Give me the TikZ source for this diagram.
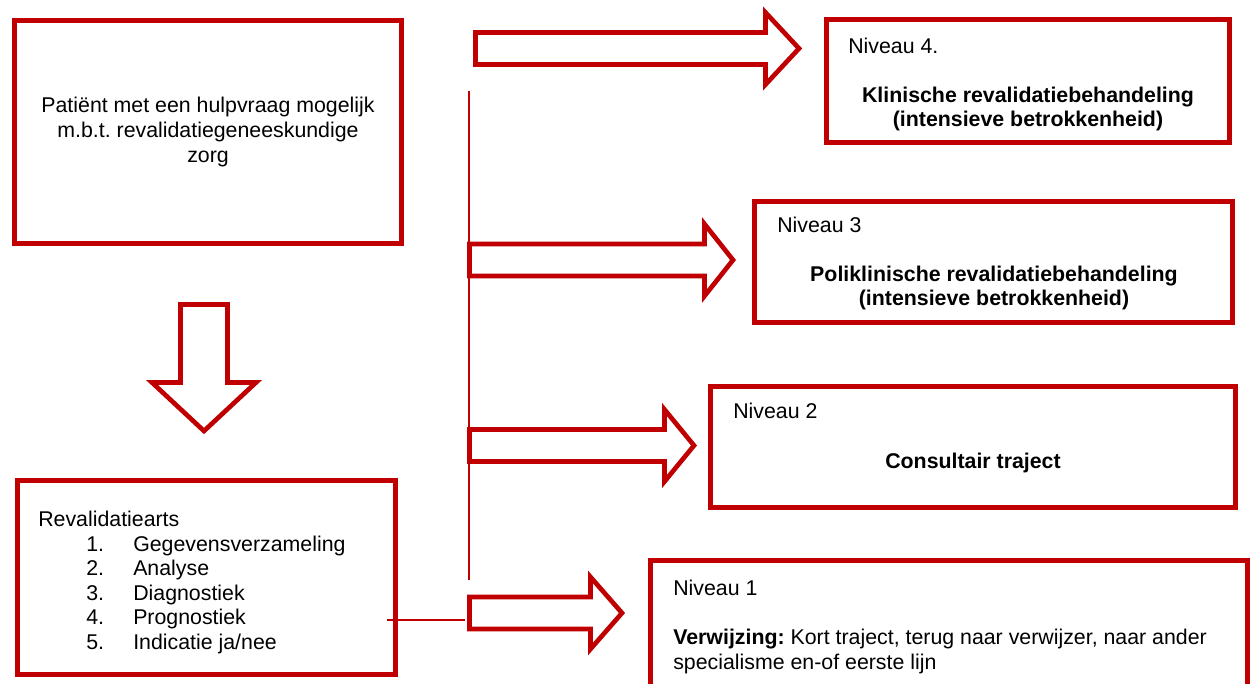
\documentclass[tikz,border=0pt]{standalone}
\usepackage{fontspec}
\setmainfont{Liberation Sans}
\definecolor{Rood}{HTML}{C00000}

\newcommand{\stap}[2]{\hspace*{36pt}\makebox[35.25pt][l]{#1}#2}
\newcommand{\pijlrechts}[4]{%
  \draw[blokpijl] (#1,#2-16) -- (#3,#2-16) -- (#3,#2-36) -- (#4,#2)
    -- (#3,#2+36) -- (#3,#2+16) -- (#1,#2+16) -- cycle;}

\begin{document}
\frenchspacing
\begin{tikzpicture}[
  x=0.75pt, y=-0.75pt,
  kader/.style={draw=Rood, line width=3.75pt, inner sep=0pt},
  txt/.style={font=\fontsize{16}{18.4}\selectfont, inner sep=0pt},
  vet/.style={txt, font=\fontsize{16}{18.4}\selectfont\bfseries, align=center},
  blokpijl/.style={draw=Rood, line width=3.5pt, fill=white},
  lijn/.style={draw=Rood, line width=1.3pt}
]
\clip (0,0) rectangle (1253,684);

% linker kolom
\node[kader, txt, align=center, minimum width=290.25pt, minimum height=167.25pt] (patient) at (208,132)
  {Patiënt met een hulpvraag mogelijk\\m.b.t. revalidatiegeneeskundige\\zorg};
\node[kader, minimum width=283.5pt, minimum height=145.5pt] (arts) at (206.5,577.5) {};
\node[txt, align=left, anchor=north west] (artstekst) at (38,511)
  {Revalidatiearts\\\stap{1.}{Gegevensverzameling}\\\stap{2.}{Analyse}\\
   \stap{3.}{Diagnostiek}\\\stap{4.}{Prognostiek}\\\stap{5.}{Indicatie ja/nee}};

\draw[blokpijl] (180.5,304.5) -- (227.5,304.5) -- (227.5,382.5) -- (256,382.5)
  -- (204,431) -- (152,382.5) -- (180.5,382.5) -- cycle;

% niveaus
\node[kader, minimum width=302.25pt, minimum height=92.25pt] (niveau4) at (1028,81) {};
\node[txt, anchor=base west] (kop4) at (848,53.5) {Niveau 4.};
\node[vet] (zorg4) at (1028,109) {Klinische revalidatiebehandeling\\(intensieve betrokkenheid)};

\node[kader, minimum width=358.5pt, minimum height=90.75pt] (niveau3) at (993.5,262) {};
\node[txt, anchor=base west] (kop3) at (777,232.5) {Niveau 3};
\node[vet] (zorg3) at (994,288) {Poliklinische revalidatiebehandeling\\(intensieve betrokkenheid)};

\node[kader, minimum width=393.75pt, minimum height=90.75pt] (niveau2) at (973,447) {};
\node[txt, anchor=base west] (kop2) at (733,418.5) {Niveau 2};
\node[vet] (zorg2) at (973,463) {Consultair traject};

\node[kader, minimum width=447.75pt, minimum height=102.75pt] (niveau1) at (949,629) {};
\node[txt, align=left, anchor=north west] (kop1) at (673,580)
  {Niveau 1\\[18.4pt]\textbf{Verwijzing:} Kort traject, terug naar verwijzer, naar ander\\specialisme en-of eerste lijn};

% verdeling
\coordinate (splitboven) at (469,91);
\coordinate (splitonder) at (469,580);
\coordinate (aftakbegin) at (387,620);
\coordinate (aftak) at (465,620);
\draw[lijn] (splitboven) -- (splitonder);
\draw[lijn] (aftakbegin) -- (aftak);

\pijlrechts{475.5}{48.5}{765.5}{799}
\pijlrechts{469.5}{260}{704.5}{733}
\pijlrechts{469.5}{445.5}{664.5}{694}
\pijlrechts{469.5}{613}{590.5}{622}
\end{tikzpicture}
\end{document}
